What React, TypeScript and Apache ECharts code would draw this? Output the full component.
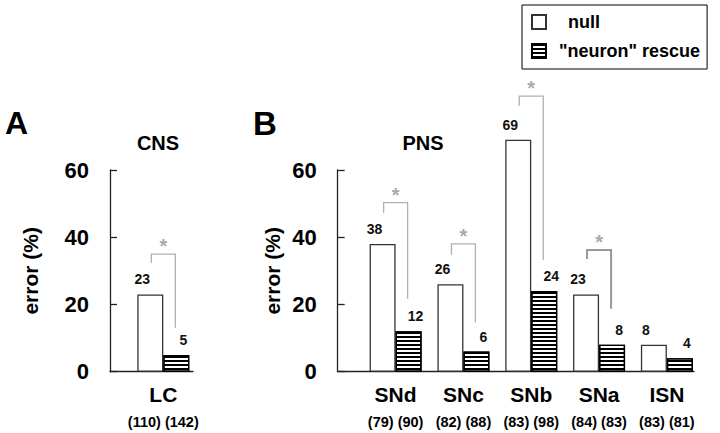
import React, { useEffect, useRef } from "react";
import * as echarts from "echarts";

// ---- data ----
const cnsGroups = ["LC"];
const cnsCounts = ["(110) (142)"];
const cnsNull = [23];
const cnsRescue = [5];

const pnsGroups = ["SNd", "SNc", "SNb", "SNa", "ISN"];
const pnsCounts = ["(79) (90)", "(82) (88)", "(83) (98)", "(84) (83)", "(83) (81)"];
const pnsNull = [38, 26, 69, 23, 8];
const pnsRescue = [12, 6, 24, 8, 4];

// significance brackets: [category index, bracket top, left leg bottom, right leg bottom]
const cnsBrackets = [[0, 35, 32.3, 13.1]];
const pnsBrackets = [
  [0, 50.3, 47.3, 21.6],
  [1, 38, 34.7, 14.6],
  [2, 82, 79.1, 33.2],
  [3, 36.2, 33.5, 18.7],
];

const yMin = 0;
const yMax = 60;
const yStep = 20;

const NULL_NAME = "null";
const RESCUE_NAME = '"neuron" rescue';

const FONT = "Liberation Sans, Arial, Helvetica, sans-serif";

export default function App() {
  const ref = useRef<HTMLDivElement>(null);

  useEffect(() => {
    if (!ref.current) return;
    const chart = echarts.init(ref.current, undefined, { renderer: "svg" });

    const top = 170;
    const height = 201.7;

    const frameX = (gridIndex: number) => ({
      gridIndex,
      type: "value",
      min: 0,
      max: 1,
      axisLine: { show: true, lineStyle: { color: "#222", width: 1.3 } },
      axisTick: { show: false },
      axisLabel: { show: false },
      splitLine: { show: false },
    });

    const catX = (gridIndex: number, data: string[], counts: string[]) => ({
      gridIndex,
      type: "category",
      data,
      axisLine: { show: false },
      axisTick: { show: false },
      splitLine: { show: false },
      axisLabel: {
        interval: 0,
        margin: 9,
        formatter: (v: string, i: number) => `{a|${v}}\n{n|${counts[i]}}`,
        rich: {
          a: { fontSize: 21, fontWeight: "bold", lineHeight: 28, color: "#000", fontFamily: FONT },
          n: { fontSize: 14.5, fontWeight: "bold", lineHeight: 26, color: "#000", fontFamily: FONT },
        },
      },
    });

    const frameY = (gridIndex: number, nameGap: number) => ({
      gridIndex,
      type: "value",
      min: yMin,
      max: yMax,
      interval: yStep,
      name: "error (%)",
      nameLocation: "middle",
      nameRotate: 90,
      nameGap,
      nameTextStyle: { fontSize: 21, fontWeight: "bold", color: "#000", fontFamily: FONT },
      axisLine: { show: true, lineStyle: { color: "#222", width: 1.3 } },
      axisTick: { show: true, inside: true, length: 7, lineStyle: { color: "#222", width: 1.3 } },
      axisLabel: { margin: 21, fontSize: 22, fontWeight: "bold", color: "#000", fontFamily: FONT },
      splitLine: { show: false },
    });

    const hiddenY = (gridIndex: number) => ({
      gridIndex,
      type: "value",
      min: yMin,
      max: yMax,
      show: false,
    });

    const labelStyle = (dx: number) => ({
      show: true,
      position: "top",
      distance: 8,
      offset: [dx, 0],
      fontSize: 14,
      fontWeight: "bold",
      color: "#111",
      fontFamily: FONT,
    });

    const nullStyle = { color: "#fff", borderColor: "#333", borderWidth: 1.3 };
    const rescueStyle = {
      color: "#fff",
      borderColor: "#000",
      borderWidth: 1.3,
      decal: {
        symbol: "rect",
        symbolSize: 1,
        dashArrayX: [1, 0],
        dashArrayY: [2, 2],
        rotation: 0,
        color: "#000",
      },
    };

    const bars = (xi: number, nulls: number[], rescues: number[]) => [
      {
        type: "bar",
        name: NULL_NAME,
        xAxisIndex: xi,
        yAxisIndex: xi,
        data: nulls,
        barWidth: 26,
        barGap: "0%",
        clip: false,
        itemStyle: nullStyle,
        label: labelStyle(-8),
        emphasis: { disabled: true },
      },
      {
        type: "bar",
        name: RESCUE_NAME,
        xAxisIndex: xi,
        yAxisIndex: xi,
        data: rescues,
        barWidth: 26,
        barGap: "0%",
        clip: false,
        itemStyle: rescueStyle,
        label: labelStyle(7),
        emphasis: { disabled: true },
      },
    ];

    const bracketSeries = (xi: number, data: number[][], heavy: number[]) => ({
      type: "custom",
      xAxisIndex: xi,
      yAxisIndex: xi,
      clip: false,
      silent: true,
      encode: { x: 0, y: 1 },
      data,
      renderItem: (params: any, api: any) => {
        const cat = api.value(0);
        const t = api.coord([cat, api.value(1)]);
        const lb = api.coord([cat, api.value(2)]);
        const rb = api.coord([cat, api.value(3)]);
        const xl = t[0] - 12;
        const xr = t[0] + 12;
        const isHeavy = heavy.indexOf(params.dataIndex) >= 0;
        return {
          type: "group",
          children: [
            {
              type: "polyline",
              shape: { points: [[xl, lb[1]], [xl, t[1]], [xr, t[1]], [xr, rb[1]]] },
              style: { stroke: isHeavy ? "#999" : "#b0b0b0", lineWidth: isHeavy ? 2 : 1.3, fill: null },
            },
            {
              type: "text",
              x: t[0],
              y: t[1] - 8,
              style: {
                text: "*",
                fill: "#aaa",
                font: `bold 20px ${FONT}`,
                align: "center",
                verticalAlign: "middle",
                textAlign: "center",
                textVerticalAlign: "middle",
              },
            },
          ],
        };
      },
    });

    const option: any = {
      animation: false,
      backgroundColor: "#fff",
      textStyle: { fontFamily: FONT },
      title: [
        { text: "A", left: 5, top: 107, padding: 0, textStyle: { fontSize: 32, fontWeight: "bold", color: "#000", fontFamily: FONT } },
        { text: "B", left: 253, top: 107, padding: 0, textStyle: { fontSize: 33, fontWeight: "bold", color: "#000", fontFamily: FONT } },
        { text: "CNS", left: 158, textAlign: "center", top: 133, padding: 0, textStyle: { fontSize: 20, fontWeight: "bold", color: "#000", fontFamily: FONT } },
        { text: "PNS", left: 423, textAlign: "center", top: 133, padding: 0, textStyle: { fontSize: 20, fontWeight: "bold", color: "#000", fontFamily: FONT } },
      ],
      legend: {
        orient: "vertical",
        left: 522,
        top: 5,
        padding: [7, 7, 8, 9],
        itemWidth: 14,
        itemHeight: 14,
        itemGap: 9,
        icon: "rect",
        selectedMode: false,
        borderColor: "#000",
        borderWidth: 1,
        textStyle: { fontSize: 18, fontWeight: "bold", color: "#000", lineHeight: 20, fontFamily: FONT },
        data: [
          { name: NULL_NAME, textStyle: { padding: [0, 0, 0, 17] } },
          { name: RESCUE_NAME, textStyle: { padding: [0, 0, 0, 8] } },
        ],
      },
      grid: [
        { left: 110, top, width: 83, height },
        { left: 129.4, top, width: 67.8, height },
        { left: 337.7, top, width: 356.3, height },
        { left: 361.7, top, width: 339.1, height },
      ],
      xAxis: [
        frameX(0),
        catX(1, cnsGroups, cnsCounts),
        frameX(2),
        catX(3, pnsGroups, pnsCounts),
      ],
      yAxis: [frameY(0, 69), hiddenY(1), frameY(2, 55), hiddenY(3)],
      series: [
        ...bars(1, cnsNull, cnsRescue),
        ...bars(3, pnsNull, pnsRescue),
        bracketSeries(1, cnsBrackets, []),
        bracketSeries(3, pnsBrackets, [3]),
      ],
    };

    chart.setOption(option);
    return () => chart.dispose();
  }, []);

  return (
    <div
      ref={ref}
      style={{ position: "absolute", left: 0, top: 0, width: 720, height: 433, background: "#fff" }}
    />
  );
}
